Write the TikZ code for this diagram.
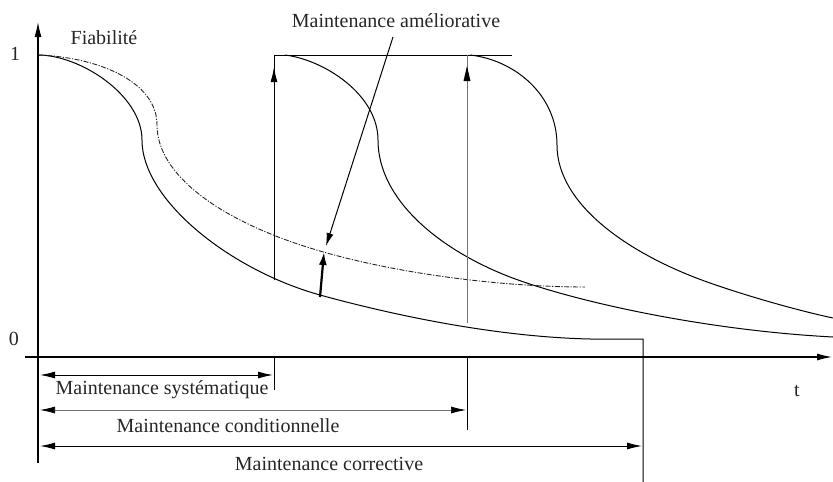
\documentclass[tikz,border=0pt]{standalone}
\usepackage{fontspec}
\setmainfont{Liberation Serif}
\usetikzlibrary{arrows.meta}
\begin{document}
\begin{tikzpicture}[x=1pt,y=-1pt,
  axis/.style={line width=1.1pt,black},
  curve/.style={line width=1pt,black},
  curveb/.style={line width=0.9pt,black!85,dash pattern=on 5pt off 1.5pt on 1.2pt off 1.5pt},
  guide/.style={line width=1pt,black},
  guidel/.style={line width=0.7pt,black!55},
  bigtip/.style={-{Latex[length=15pt,width=7pt]}},
  dimtip/.style={{Latex[length=15pt,width=7pt,color=black]}-{Latex[length=15pt,width=7pt,color=black]}},
  lbl/.style={font=\fontsize{20}{22}\selectfont,text=black!85,inner sep=0pt}]
\useasboundingbox (0,0) rectangle (833,482);
% axes
\coordinate (yb) at (38,463); \coordinate (yt) at (38,22);
\coordinate (xl) at (25,357); \coordinate (xr) at (832,357);
\draw[axis,bigtip] (yb) -- (yt);
\draw[axis,bigtip] (xl) -- (xr);
\node[lbl] (one) at (15,54) {1};
\node[lbl] (zero) at (14,339) {0};
\node[lbl] (tlab) at (797,391) {t};
\node[lbl] (fiab) at (104,38) {Fiabilité};
% curve 1
\coordinate (c1a) at (38,55); \coordinate (c1b) at (142,140);
\coordinate (c1c) at (320,295); \coordinate (c1d) at (590,339);
\coordinate (c1e) at (643,339); \coordinate (c1f) at (643,482);
\draw[curve] (c1a) .. controls (80,55) and (142,95) .. (c1b)
  .. controls (142,200) and (230,270) .. (c1c)
  .. controls (400,317) and (500,337) .. (c1d) -- (c1e) -- (c1f);
% curve 2 (dash-dot)
\coordinate (c2b) at (157,125); \coordinate (c2c) at (310,248); \coordinate (c2d) at (585,287);
\draw[curveb] (c1a) .. controls (95,57) and (157,80) .. (c2b)
  .. controls (157,175) and (220,220) .. (c2c)
  .. controls (390,273) and (500,287) .. (c2d);
% top line
\coordinate (tl) at (274,55); \coordinate (tr) at (512,55);
\draw[guide] (tl) -- (tr);
% curve 3
\coordinate (c3a) at (285,55); \coordinate (c3b) at (378,140);
\coordinate (c3c) at (510,277); \coordinate (c3d) at (833,337);
\draw[curve] (c3a) .. controls (325,60) and (378,95) .. (c3b)
  .. controls (378,200) and (440,250) .. (c3c)
  .. controls (570,300) and (700,330) .. (c3d);
% curve 4
\coordinate (c4a) at (470,55); \coordinate (c4b) at (557,145);
\coordinate (c4c) at (710,283); \coordinate (c4d) at (833,318);
\draw[curve] (c4a) .. controls (515,60) and (557,95) .. (c4b)
  .. controls (557,205) and (630,255) .. (c4c)
  .. controls (750,297) and (800,311) .. (c4d);
% vertical at 274
\coordinate (v1b) at (274,280); \coordinate (v1m) at (274,67);
\draw[guide] (v1b) -- (tl);
\draw[guide,-{Latex[length=15pt,width=7pt]}] (v1b) -- (v1m);
\coordinate (v1u) at (274,357); \coordinate (v1d) at (274,390);
\draw[guide] (v1u) -- (v1d);
% vertical at 467
\coordinate (v2b) at (467,323); \coordinate (v2t) at (467,55); \coordinate (v2m) at (467,66);
\draw[guidel] (v2b) -- (v2t);
\fill[black] (v2m) -- ++(-3.5,15) -- ++(7,0) -- cycle;
\coordinate (v2u) at (467,357); \coordinate (v2d) at (467,430);
\draw[guide] (v2u) -- (v2d);
% improvement arrow + annotation
\node[lbl] (amel) at (396,21) {Maintenance améliorative};
\coordinate (ia) at (320,297); \coordinate (ib) at (324,252);
\draw[line width=2.2pt,-{Latex[length=13pt,width=8pt]}] (ia) -- (ib);
\coordinate (an) at (393,37); \coordinate (ae) at (326,246);
\draw[line width=1pt,-{Latex[length=13pt,width=7pt]}] (an) -- (ae);
% dimension arrows
\coordinate (s1) at (40,375); \coordinate (s2) at (273,375);
\draw[guide,dimtip] (s1) -- (s2);
\node[lbl] (sys) at (162,390) {Maintenance systématique};
\coordinate (k1) at (40,410); \coordinate (k2) at (466,410);
\draw[guidel,dimtip] (k1) -- (k2);
\node[lbl] (cond) at (228,426) {Maintenance conditionnelle};
\coordinate (r1) at (40,446); \coordinate (r2) at (642,446);
\draw[guide,dimtip] (r1) -- (r2);
\node[lbl] (corr) at (329,464) {Maintenance corrective};
\end{tikzpicture}
\end{document}
